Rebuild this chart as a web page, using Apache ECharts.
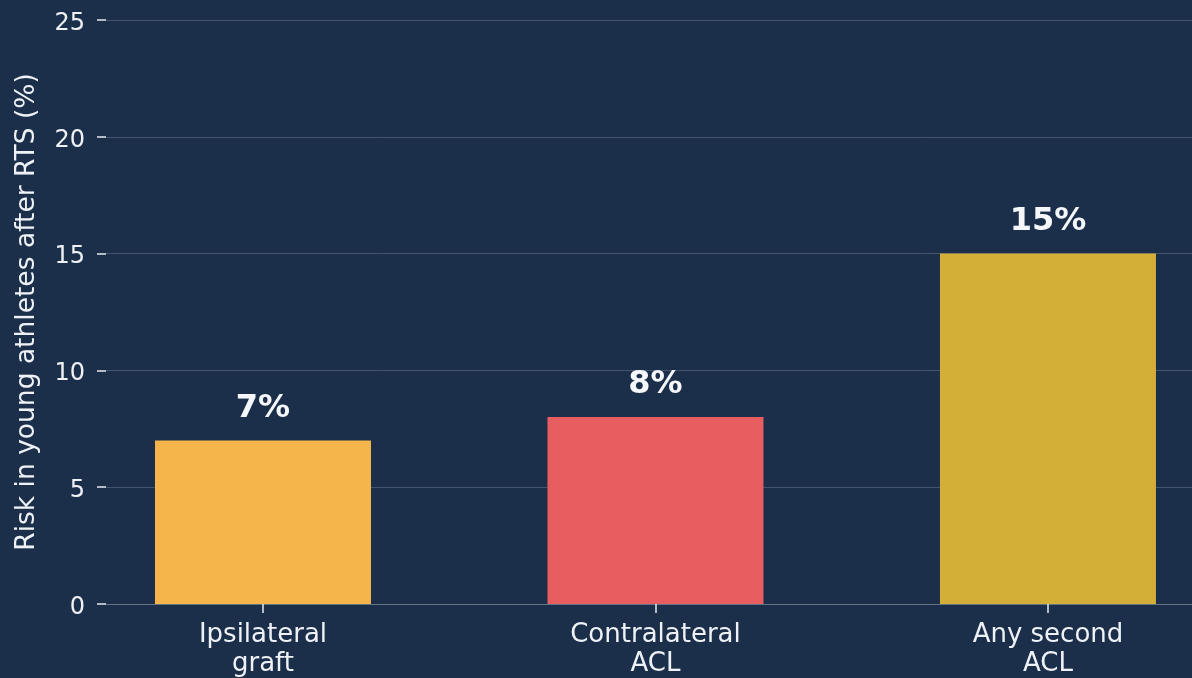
<!DOCTYPE html>
<html><head><meta charset="utf-8">
<script src="https://cdn.jsdelivr.net/npm/echarts@6/dist/echarts.min.js"></script>
<style>html,body{margin:0;padding:0;background:#1b2f4a;}#c{width:1192px;height:678px;}</style>
</head><body><div id="c"></div>
<script>
const categories = ["Ipsilateral\ngraft", "Contralateral\nACL", "Any second\nACL"];
const values = [7, 8, 15];
const barColors = ["#f5b54a", "#e85d60", "#d4af37"];
const yTicks = [0, 5, 10, 15, 20, 25];

const chart = echarts.init(document.getElementById('c'));
const font = "DejaVu Sans";
chart.setOption({
  backgroundColor: '#1b2f4a',
  animation: false,
  grid: {left: 106, top: 20, bottom: 74, right: 0, containLabel: false, outerBoundsMode: 'none'},
  xAxis: {
    type: 'value', min: -0.4, max: 2.367,
    splitLine: {show: false},
    axisLine: {show: true, onZero: false, lineStyle: {color: 'rgba(255,255,255,0.18)', width: 1}},
    axisTick: {show: true, customValues: [0, 1, 2], length: 9, lineStyle: {color: '#e6eaef', width: 1.5}},
    axisLabel: {show: true, customValues: [0, 1, 2], formatter: v => categories[Math.round(v)],
      color: '#eef1f5', fontFamily: font, fontSize: 26, lineHeight: 29, margin: 17}
  },
  yAxis: {
    type: 'value', min: 0, max: 25, interval: 5,
    name: 'Risk in young athletes after RTS (%)', nameLocation: 'middle', nameGap: 65,
    nameTextStyle: {color: '#eef1f5', fontFamily: font, fontSize: 26.5},
    axisLine: {show: false, onZero: false},
    axisTick: {show: true, length: 9, lineStyle: {color: '#e6eaef', width: 1.5}},
    axisLabel: {margin: 21, formatter: v => '{a|' + v + '}',
      rich: {a: {color: '#eef1f5', fontFamily: font, fontSize: 24, padding: [7, 0, 0, 0]}}},
    splitLine: {show: true, lineStyle: {color: 'rgba(255,255,255,0.18)', width: 1}}
  },
  series: [{
    type: 'bar', barWidth: 216,
    data: values.map((v, i) => ({value: [i, v], itemStyle: {color: barColors[i]}})),
    label: {show: true, position: 'top', distance: 16, formatter: p => p.value[1] + '%',
      color: '#f5f7fa', fontFamily: font, fontSize: 32, fontWeight: 'bold'}
  }]
});
</script></body></html>
